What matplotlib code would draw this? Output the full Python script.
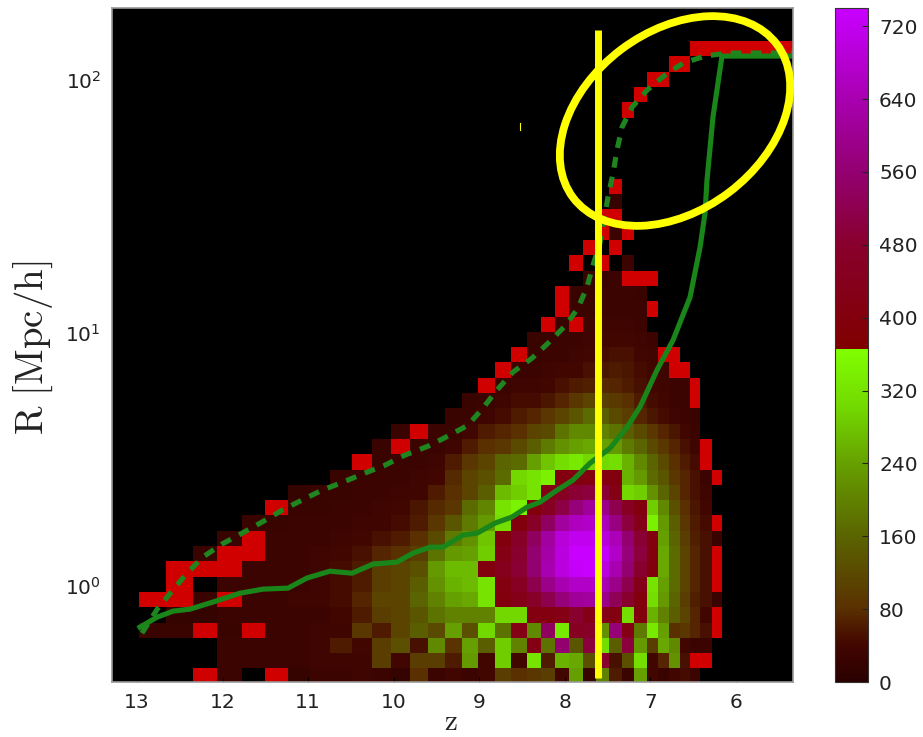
import numpy as np
import matplotlib
matplotlib.use("Agg")
import matplotlib.pyplot as plt
from matplotlib.colors import LinearSegmentedColormap
from matplotlib.patches import Ellipse

W, H = 923, 737
R = -1  # cells with very few counts, drawn bright red

# bin edges along z (bins get narrower towards low z)
z_edges = [13.292, 12.973, 12.661, 12.349, 12.062, 11.776, 11.504, 11.239, 10.990, 10.739,
           10.487, 10.254, 10.032, 9.810, 9.599, 9.401, 9.202, 9.015, 8.816, 8.629,
           8.442, 8.279, 8.115, 7.952, 7.788, 7.636, 7.484, 7.332, 7.192, 7.040,
           6.911, 6.783, 6.654, 6.537, 6.420, 6.284, 6.167, 6.047, 5.930, 5.813,
           5.696, 5.579, 5.462, 5.334]

# first filled column of each row, bottom row first
row_starts = [3, 4, 4, 1, 2, 1, 2, 2, 3, 4, 5, 6, 7, 9, 10, 11, 12, 15, 16, 17, 18, 19,
              20, 21, 22, 22, 24, 23, 24, 25, 25, 26, 26, 0, 0, 0, 0, 27, 28, 29, 31, 33]

row_counts = [
    [R, 30, 0, R, 20, 30, 30, 35, 30, 20, 80, 30, 40, 30, 40, 100, 80, 90, 100, 40, 240, 25, 200, 60, 30, 240, 40, 25, 40, 45, 30],
    [30, 30, 30, 30, 35, 35, 35, 100, 40, 100, 100, 60, 230, 40, 290, 40, 320, 60, 260, 250, 130, 480, 50, 130, 310, 40, 70, 220, 50, R, R],
    [30, 30, 30, 30, 35, 60, 40, 100, 130, 50, 210, 85, 240, 150, 290, 200, 420, 180, 560, 140, 500, 310, 150, 500, 230, 100, 250, 210, 40, 30, 30],
    [25, 25, R, 25, R, 30, 30, 35, 35, 90, 60, 110, 150, 120, 240, 130, 300, 180, 420, 210, 540, 330, 450, 470, 220, 570, 420, 190, 330, 240, 80, 90, 70, 50, R],
    [20, 20, 30, 30, 30, 30, 30, 40, 60, 100, 110, 140, 180, 200, 200, 200, 300, 300, 410, 410, 420, 480, 430, 420, 410, 310, 400, 260, 200, 150, 110, 70, 40, R],
    [R, R, 25, R, 30, 30, 35, 35, 45, 70, 110, 110, 160, 200, 240, 250, 320, 400, 430, 470, 520, 570, 610, 620, 590, 530, 480, 400, 310, 230, 160, 100, 65, 50, 25],
    [R, 0, 30, 30, 30, 30, 35, 45, 60, 100, 110, 150, 220, 260, 270, 320, 410, 460, 520, 590, 640, 670, 670, 640, 590, 520, 430, 320, 240, 170, 110, 70, 50, R],
    [R, R, R, 30, 30, 30, 35, 45, 60, 100, 110, 130, 230, 270, 270, 400, 440, 490, 560, 640, 700, 730, 740, 700, 640, 560, 480, 400, 250, 170, 110, 70, 50, R],
    [25, R, R, 30, 30, 35, 40, 50, 70, 80, 100, 180, 230, 240, 290, 420, 480, 560, 630, 700, 740, 740, 730, 670, 570, 500, 400, 250, 170, 110, 70, 50, R],
    [25, R, 30, 30, 30, 35, 40, 50, 60, 80, 120, 190, 220, 280, 400, 470, 540, 620, 690, 720, 720, 690, 650, 560, 490, 400, 240, 160, 100, 65, 50, 25],
    [25, 25, 30, 30, 30, 35, 35, 45, 60, 90, 140, 190, 230, 310, 400, 470, 540, 620, 660, 670, 650, 580, 500, 430, 340, 230, 150, 90, 60, 45, R],
    [R, 25, 25, 30, 30, 35, 40, 55, 75, 90, 170, 205, 320, 345, 400, 450, 510, 570, 610, 590, 520, 460, 400, 290, 210, 130, 80, 55, 40],
    [20, 25, 25, 30, 30, 35, 35, 60, 80, 110, 150, 270, 290, 320, 420, 450, 490, 500, 490, 420, 300, 290, 220, 160, 110, 70, 50, 35],
    [25, 30, 30, 30, 35, 40, 75, 110, 130, 170, 300, 320, 340, 400, 410, 410, 410, 400, 260, 230, 170, 140, 90, 70, 50, 30, R],
    [R, 25, 30, 30, 35, 60, 90, 110, 160, 170, 240, 280, 310, 330, 300, 300, 310, 260, 210, 160, 120, 80, 60, 45, R],
    [25, R, 30, 30, 35, 60, 80, 90, 120, 150, 190, 220, 240, 250, 240, 230, 190, 160, 120, 90, 70, 50, 35, R],
    [25, R, 30, 30, 40, 60, 70, 80, 110, 120, 180, 210, 210, 200, 180, 150, 120, 90, 70, 55, 40, 30],
    [25, 30, 35, 45, 60, 70, 90, 110, 140, 170, 150, 120, 100, 70, 55, 45, 35, 30, 25],
    [25, 30, 35, 45, 45, 55, 70, 90, 110, 105, 95, 80, 60, 45, 40, 30, 30, R],
    [R, 30, 35, 35, 40, 50, 60, 65, 75, 70, 60, 50, 40, 35, 30, 30, R],
    [R, 30, 30, 35, 40, 40, 50, 55, 60, 55, 45, 40, 35, R, R],
    [R, 25, 30, 30, 35, 40, 45, 50, 50, 40, 35, R, R],
    [25, 25, 30, 30, 35, 40, 40, 40, 35, 30],
    [R, 25, R, 35, 35, 35, 35, 30],
    [R, 30, 30, 30, 30, 30, 30, R],
    [R, 25, 25, 30, 30, 30, 25],
    [25, 25, 30, R, R, R],
    [R, 0, R, 0, 30],
    [R, 0, R],
    [R, 30, R],
    [R, R],
    [20],
    [R],
    [],
    [],
    [],
    [],
    [R],
    [R],
    [R, R],
    [R, R],
    [R, R, R, R, R, R, R, R, R, R],
]

solid_z = [12.965, 12.766, 12.579, 12.381, 12.112, 11.796, 11.528, 11.235, 11.013, 10.745,
           10.487, 10.242, 9.962, 9.775, 9.576, 9.424, 9.190, 9.027, 8.816, 8.618,
           8.442, 8.290, 8.092, 7.905, 7.706, 7.472, 7.274, 7.122, 6.923, 6.736,
           6.537, 6.420, 6.362, 6.339, 6.269, 6.164, 5.334]
solid_logr = [-0.162, -0.123, -0.099, -0.091, -0.063, -0.028, -0.012, -0.008, 0.032, 0.059,
              0.051, 0.087, 0.095, 0.130, 0.154, 0.154, 0.202, 0.209, 0.249, 0.273,
              0.312, 0.332, 0.379, 0.419, 0.486, 0.545, 0.628, 0.708, 0.854, 0.972,
              1.142, 1.340, 1.474, 1.605, 1.854, 2.095, 2.095]

dashed_z = [12.942, 12.755, 12.416, 12.229, 12.007, 11.773, 11.539, 11.305, 11.072, 10.838,
            10.593, 10.336, 10.102, 9.868, 9.599, 9.366, 9.132, 8.957, 8.793, 8.606,
            8.384, 8.197, 7.998, 7.846, 7.741, 7.671, 7.589, 7.496, 7.437, 7.391,
            7.332, 7.215, 7.040, 6.830, 6.619, 6.362, 6.105, 5.334]
dashed_logr = [-0.186, -0.087, 0.051, 0.115, 0.166, 0.209, 0.253, 0.300, 0.340, 0.379,
               0.411, 0.447, 0.478, 0.518, 0.553, 0.593, 0.636, 0.704, 0.775, 0.846,
               0.901, 0.960, 1.028, 1.099, 1.182, 1.269, 1.356, 1.538, 1.632, 1.723,
               1.814, 1.893, 1.960, 2.020, 2.067, 2.095, 2.107, 2.107]

cbar_ticks = [0, 80, 160, 240, 320, 400, 480, 560, 640, 720]
z_ticks = [13, 12, 11, 10, 9, 8, 7, 6]

plt.rcParams["mathtext.fontset"] = "cm"
plt.rcParams["mathtext.default"] = "regular"


def px_axes(fig, left, top, right, bottom, **kw):
    return fig.add_axes([left / W, 1 - bottom / H, (right - left) / W, (bottom - top) / H], **kw)


vmax = 740.0
split = 366.0 / vmax
cmap = LinearSegmentedColormap.from_list("counts", [
    (0.0, "#2a0000"),
    (40 / vmax, "#420600"),
    (80 / vmax, "#5a3000"),
    (120 / vmax, "#5a4a00"),
    (160 / vmax, "#5a6400"),
    (240 / vmax, "#66a000"),
    (300 / vmax, "#72d800"),
    (split, "#80ff00"),
    (split, "#800000"),
    (480 / vmax, "#88002c"),
    (560 / vmax, "#930070"),
    (640 / vmax, "#a800b0"),
    (1.0, "#c800ff"),
], N=512)
cmap.set_under("#d00000")
cmap.set_bad("black")

grid = np.zeros((44, len(z_edges) - 1))
for k, vals in enumerate(row_counts):
    grid[k, row_starts[k]:row_starts[k] + len(vals)] = vals
grid = np.ma.masked_equal(grid, 0)

r_edges = np.logspace(-0.386, 2.275, 45)

fig = plt.figure(figsize=(W / 100, H / 100), dpi=100, facecolor="white")
ax = px_axes(fig, 112, 8, 793, 682, facecolor="black")
mesh = ax.pcolormesh(z_edges, r_edges, grid, cmap=cmap, vmin=0, vmax=vmax, shading="flat")
ax.plot(solid_z, 10.0 ** np.array(solid_logr), color="#1a861a", lw=3.7)
ax.plot(dashed_z, 10.0 ** np.array(dashed_logr), color="#1f851f", lw=3.7, dashes=(2.1, 1.8))
ax.set_yscale("log")
ax.set_xlim(13.292, 5.334)
ax.set_ylim(10 ** -0.379, 10 ** 2.285)
ax.set_xticks(z_ticks)
ax.set_xticklabels([str(t) for t in z_ticks])
ax.tick_params(axis="both", which="both", direction="in", color="black", labelsize=14.5, labelcolor="#222222")
ax.tick_params(axis="x", pad=8)
ax.tick_params(axis="y", pad=8)
for s in ax.spines.values():
    s.set_color("#999999")
    s.set_linewidth(1.2)

fig.text(451 / W, 1 - 722 / H, r"$\mathrm{z}$", fontsize=21, ha="center", va="center", color="#222222")
fig.text(33 / W, 1 - 348 / H, r"$\mathrm{R\ [Mpc/h]}$", fontsize=28, rotation=90,
         ha="center", va="center", color="#222222")

cax = px_axes(fig, 835, 8, 868, 682)
cb = fig.colorbar(mesh, cax=cax, ticks=cbar_ticks)
cb.outline.set_edgecolor("#333333")
cb.ax.tick_params(direction="in", length=4, color="#222222", labelsize=14.5, labelcolor="#222222", pad=8)

# hand drawn yellow marks on top of the picture, in pixel coordinates
over = fig.add_axes([0, 0, 1, 1], facecolor="none")
over.set_xlim(0, W)
over.set_ylim(H, 0)
over.axis("off")
over.plot([598, 598], [30, 678], color="#ffff00", lw=5, solid_capstyle="butt")
over.add_patch(Ellipse((675, 121), 255, 179, angle=-37, fill=False, edgecolor="#ffff00", lw=5.6))
over.plot([520, 520], [123, 130], color="#ffff00", lw=0.8)

fig.savefig("out.png", dpi=100)
plt.close(fig)
